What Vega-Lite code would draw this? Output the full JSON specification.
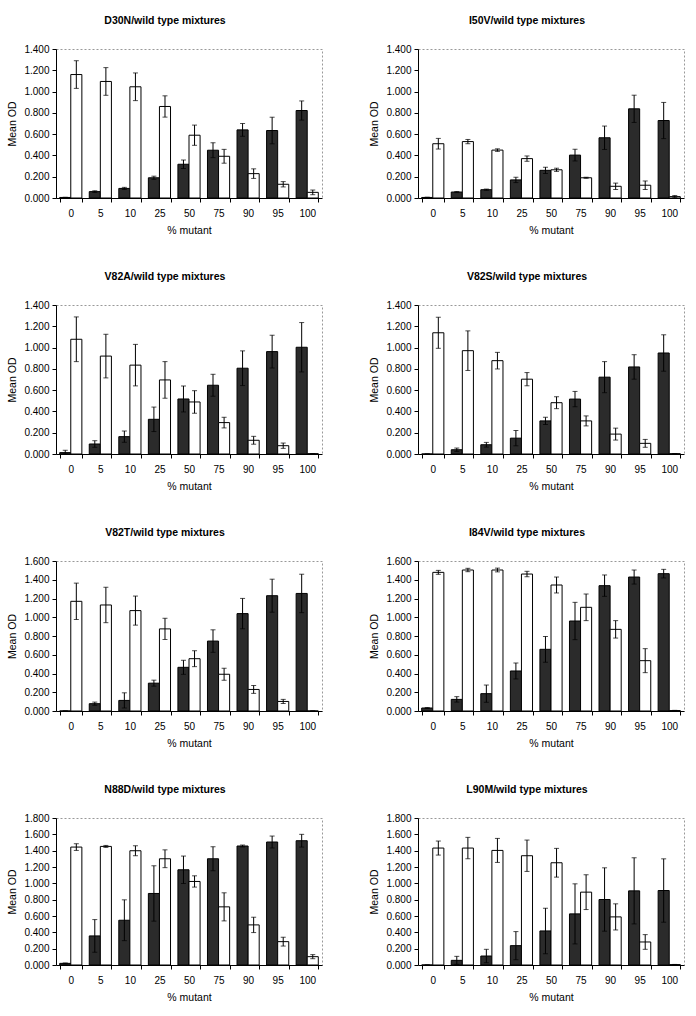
{
  "$schema": "https://vega.github.io/schema/vega-lite/v6.json",
  "padding": {"left": 7, "top": 15, "right": 4, "bottom": 4},
  "background": "white",
  "config": {
    "font": "Liberation Sans",
    "view": {"stroke": "#999999", "strokeDash": [2, 2], "strokeWidth": 1},
    "axis": {"labelFont": "Liberation Sans", "titleFont": "Liberation Sans", "labelFontSize": 10, "titleFontSize": 10.5, "titleFontWeight": "normal", "labelColor": "black", "titleColor": "black", "domainColor": "black", "tickColor": "black", "grid": false, "labelOverlap": false},
    "axisX": {"labelAngle": 0, "tickBand": "extent", "tickSize": 4, "labelPadding": 6, "titlePadding": 7},
    "axisY": {"tickSize": 4, "labelPadding": 3, "titlePadding": 6, "format": ".3f"},
    "title": {"font": "Liberation Sans", "fontSize": 10.5, "fontWeight": "bold", "color": "black", "offset": 18, "anchor": "middle", "frame": "bounds"}
  },
  "data": {"values": [
    {"panel":"D30N","pct":0,"type":"mutant","od":0.005,"lo":0.003,"hi":0.007},
    {"panel":"D30N","pct":0,"type":"wild type","od":1.16,"lo":1.03,"hi":1.29},
    {"panel":"D30N","pct":5,"type":"mutant","od":0.06,"lo":0.052,"hi":0.068},
    {"panel":"D30N","pct":5,"type":"wild type","od":1.095,"lo":0.965,"hi":1.225},
    {"panel":"D30N","pct":10,"type":"mutant","od":0.09,"lo":0.08,"hi":0.1},
    {"panel":"D30N","pct":10,"type":"wild type","od":1.045,"lo":0.915,"hi":1.175},
    {"panel":"D30N","pct":25,"type":"mutant","od":0.19,"lo":0.175,"hi":0.205},
    {"panel":"D30N","pct":25,"type":"wild type","od":0.86,"lo":0.76,"hi":0.96},
    {"panel":"D30N","pct":50,"type":"mutant","od":0.317,"lo":0.277,"hi":0.357},
    {"panel":"D30N","pct":50,"type":"wild type","od":0.59,"lo":0.495,"hi":0.685},
    {"panel":"D30N","pct":75,"type":"mutant","od":0.449,"lo":0.379,"hi":0.519},
    {"panel":"D30N","pct":75,"type":"wild type","od":0.392,"lo":0.327,"hi":0.457},
    {"panel":"D30N","pct":90,"type":"mutant","od":0.64,"lo":0.58,"hi":0.7},
    {"panel":"D30N","pct":90,"type":"wild type","od":0.229,"lo":0.184,"hi":0.274},
    {"panel":"D30N","pct":95,"type":"mutant","od":0.634,"lo":0.509,"hi":0.759},
    {"panel":"D30N","pct":95,"type":"wild type","od":0.129,"lo":0.104,"hi":0.154},
    {"panel":"D30N","pct":100,"type":"mutant","od":0.822,"lo":0.732,"hi":0.912},
    {"panel":"D30N","pct":100,"type":"wild type","od":0.053,"lo":0.031,"hi":0.075},

    {"panel":"I50V","pct":0,"type":"mutant","od":0.005,"lo":0.002,"hi":0.008},
    {"panel":"I50V","pct":0,"type":"wild type","od":0.51,"lo":0.46,"hi":0.56},
    {"panel":"I50V","pct":5,"type":"mutant","od":0.056,"lo":0.051,"hi":0.061},
    {"panel":"I50V","pct":5,"type":"wild type","od":0.53,"lo":0.51,"hi":0.55},
    {"panel":"I50V","pct":10,"type":"mutant","od":0.078,"lo":0.072,"hi":0.084},
    {"panel":"I50V","pct":10,"type":"wild type","od":0.45,"lo":0.438,"hi":0.462},
    {"panel":"I50V","pct":25,"type":"mutant","od":0.17,"lo":0.145,"hi":0.195},
    {"panel":"I50V","pct":25,"type":"wild type","od":0.37,"lo":0.345,"hi":0.395},
    {"panel":"I50V","pct":50,"type":"mutant","od":0.26,"lo":0.23,"hi":0.29},
    {"panel":"I50V","pct":50,"type":"wild type","od":0.265,"lo":0.25,"hi":0.28},
    {"panel":"I50V","pct":75,"type":"mutant","od":0.403,"lo":0.348,"hi":0.458},
    {"panel":"I50V","pct":75,"type":"wild type","od":0.19,"lo":0.185,"hi":0.195},
    {"panel":"I50V","pct":90,"type":"mutant","od":0.566,"lo":0.456,"hi":0.676},
    {"panel":"I50V","pct":90,"type":"wild type","od":0.11,"lo":0.08,"hi":0.14},
    {"panel":"I50V","pct":95,"type":"mutant","od":0.838,"lo":0.71,"hi":0.966},
    {"panel":"I50V","pct":95,"type":"wild type","od":0.12,"lo":0.08,"hi":0.16},
    {"panel":"I50V","pct":100,"type":"mutant","od":0.728,"lo":0.558,"hi":0.898},
    {"panel":"I50V","pct":100,"type":"wild type","od":0.013,"lo":0.003,"hi":0.023},

    {"panel":"V82A","pct":0,"type":"mutant","od":0.013,"lo":0.0,"hi":0.035},
    {"panel":"V82A","pct":0,"type":"wild type","od":1.078,"lo":0.868,"hi":1.288},
    {"panel":"V82A","pct":5,"type":"mutant","od":0.094,"lo":0.063,"hi":0.125},
    {"panel":"V82A","pct":5,"type":"wild type","od":0.92,"lo":0.715,"hi":1.125},
    {"panel":"V82A","pct":10,"type":"mutant","od":0.163,"lo":0.11,"hi":0.216},
    {"panel":"V82A","pct":10,"type":"wild type","od":0.835,"lo":0.64,"hi":1.03},
    {"panel":"V82A","pct":25,"type":"mutant","od":0.326,"lo":0.211,"hi":0.441},
    {"panel":"V82A","pct":25,"type":"wild type","od":0.696,"lo":0.524,"hi":0.868},
    {"panel":"V82A","pct":50,"type":"mutant","od":0.517,"lo":0.395,"hi":0.639},
    {"panel":"V82A","pct":50,"type":"wild type","od":0.489,"lo":0.383,"hi":0.595},
    {"panel":"V82A","pct":75,"type":"mutant","od":0.646,"lo":0.543,"hi":0.749},
    {"panel":"V82A","pct":75,"type":"wild type","od":0.295,"lo":0.245,"hi":0.345},
    {"panel":"V82A","pct":90,"type":"mutant","od":0.806,"lo":0.643,"hi":0.969},
    {"panel":"V82A","pct":90,"type":"wild type","od":0.129,"lo":0.092,"hi":0.166},
    {"panel":"V82A","pct":95,"type":"mutant","od":0.962,"lo":0.808,"hi":1.116},
    {"panel":"V82A","pct":95,"type":"wild type","od":0.078,"lo":0.053,"hi":0.103},
    {"panel":"V82A","pct":100,"type":"mutant","od":1.003,"lo":0.771,"hi":1.235},
    {"panel":"V82A","pct":100,"type":"wild type","od":0.003,"lo":0.002,"hi":0.004},

    {"panel":"V82S","pct":0,"type":"mutant","od":0.0,"lo":0.0,"hi":0.0},
    {"panel":"V82S","pct":0,"type":"wild type","od":1.139,"lo":0.993,"hi":1.285},
    {"panel":"V82S","pct":5,"type":"mutant","od":0.04,"lo":0.024,"hi":0.056},
    {"panel":"V82S","pct":5,"type":"wild type","od":0.971,"lo":0.785,"hi":1.157},
    {"panel":"V82S","pct":10,"type":"mutant","od":0.087,"lo":0.065,"hi":0.109},
    {"panel":"V82S","pct":10,"type":"wild type","od":0.877,"lo":0.799,"hi":0.955},
    {"panel":"V82S","pct":25,"type":"mutant","od":0.149,"lo":0.077,"hi":0.221},
    {"panel":"V82S","pct":25,"type":"wild type","od":0.703,"lo":0.641,"hi":0.765},
    {"panel":"V82S","pct":50,"type":"mutant","od":0.311,"lo":0.277,"hi":0.345},
    {"panel":"V82S","pct":50,"type":"wild type","od":0.482,"lo":0.426,"hi":0.538},
    {"panel":"V82S","pct":75,"type":"mutant","od":0.516,"lo":0.444,"hi":0.588},
    {"panel":"V82S","pct":75,"type":"wild type","od":0.311,"lo":0.264,"hi":0.358},
    {"panel":"V82S","pct":90,"type":"mutant","od":0.722,"lo":0.576,"hi":0.868},
    {"panel":"V82S","pct":90,"type":"wild type","od":0.187,"lo":0.131,"hi":0.243},
    {"panel":"V82S","pct":95,"type":"mutant","od":0.818,"lo":0.703,"hi":0.933},
    {"panel":"V82S","pct":95,"type":"wild type","od":0.1,"lo":0.063,"hi":0.137},
    {"panel":"V82S","pct":100,"type":"mutant","od":0.949,"lo":0.778,"hi":1.12},
    {"panel":"V82S","pct":100,"type":"wild type","od":0.003,"lo":0.002,"hi":0.004},

    {"panel":"V82T","pct":0,"type":"mutant","od":0.0,"lo":0.0,"hi":0.0},
    {"panel":"V82T","pct":0,"type":"wild type","od":1.17,"lo":0.976,"hi":1.364},
    {"panel":"V82T","pct":5,"type":"mutant","od":0.078,"lo":0.061,"hi":0.095},
    {"panel":"V82T","pct":5,"type":"wild type","od":1.131,"lo":0.942,"hi":1.32},
    {"panel":"V82T","pct":10,"type":"mutant","od":0.113,"lo":0.032,"hi":0.194},
    {"panel":"V82T","pct":10,"type":"wild type","od":1.071,"lo":0.916,"hi":1.226},
    {"panel":"V82T","pct":25,"type":"mutant","od":0.297,"lo":0.265,"hi":0.329},
    {"panel":"V82T","pct":25,"type":"wild type","od":0.876,"lo":0.763,"hi":0.989},
    {"panel":"V82T","pct":50,"type":"mutant","od":0.466,"lo":0.391,"hi":0.541},
    {"panel":"V82T","pct":50,"type":"wild type","od":0.558,"lo":0.473,"hi":0.643},
    {"panel":"V82T","pct":75,"type":"mutant","od":0.746,"lo":0.626,"hi":0.866},
    {"panel":"V82T","pct":75,"type":"wild type","od":0.392,"lo":0.328,"hi":0.456},
    {"panel":"V82T","pct":90,"type":"mutant","od":1.039,"lo":0.877,"hi":1.201},
    {"panel":"V82T","pct":90,"type":"wild type","od":0.23,"lo":0.188,"hi":0.272},
    {"panel":"V82T","pct":95,"type":"mutant","od":1.23,"lo":1.054,"hi":1.406},
    {"panel":"V82T","pct":95,"type":"wild type","od":0.102,"lo":0.08,"hi":0.124},
    {"panel":"V82T","pct":100,"type":"mutant","od":1.254,"lo":1.049,"hi":1.459},
    {"panel":"V82T","pct":100,"type":"wild type","od":0.0,"lo":0.0,"hi":0.0},

    {"panel":"I84V","pct":0,"type":"mutant","od":0.032,"lo":0.027,"hi":0.037},
    {"panel":"I84V","pct":0,"type":"wild type","od":1.479,"lo":1.458,"hi":1.5},
    {"panel":"I84V","pct":5,"type":"mutant","od":0.124,"lo":0.095,"hi":0.153},
    {"panel":"I84V","pct":5,"type":"wild type","od":1.504,"lo":1.486,"hi":1.522},
    {"panel":"I84V","pct":10,"type":"mutant","od":0.185,"lo":0.093,"hi":0.277},
    {"panel":"I84V","pct":10,"type":"wild type","od":1.504,"lo":1.484,"hi":1.524},
    {"panel":"I84V","pct":25,"type":"mutant","od":0.427,"lo":0.342,"hi":0.512},
    {"panel":"I84V","pct":25,"type":"wild type","od":1.461,"lo":1.432,"hi":1.49},
    {"panel":"I84V","pct":50,"type":"mutant","od":0.658,"lo":0.52,"hi":0.796},
    {"panel":"I84V","pct":50,"type":"wild type","od":1.344,"lo":1.259,"hi":1.429},
    {"panel":"I84V","pct":75,"type":"mutant","od":0.96,"lo":0.761,"hi":1.159},
    {"panel":"I84V","pct":75,"type":"wild type","od":1.106,"lo":0.964,"hi":1.248},
    {"panel":"I84V","pct":90,"type":"mutant","od":1.337,"lo":1.223,"hi":1.451},
    {"panel":"I84V","pct":90,"type":"wild type","od":0.871,"lo":0.778,"hi":0.964},
    {"panel":"I84V","pct":95,"type":"mutant","od":1.429,"lo":1.354,"hi":1.504},
    {"panel":"I84V","pct":95,"type":"wild type","od":0.537,"lo":0.409,"hi":0.665},
    {"panel":"I84V","pct":100,"type":"mutant","od":1.465,"lo":1.419,"hi":1.511},
    {"panel":"I84V","pct":100,"type":"wild type","od":0.005,"lo":0.003,"hi":0.007},

    {"panel":"N88D","pct":0,"type":"mutant","od":0.02,"lo":0.015,"hi":0.025},
    {"panel":"N88D","pct":0,"type":"wild type","od":1.444,"lo":1.403,"hi":1.485},
    {"panel":"N88D","pct":5,"type":"mutant","od":0.356,"lo":0.156,"hi":0.556},
    {"panel":"N88D","pct":5,"type":"wild type","od":1.452,"lo":1.44,"hi":1.464},
    {"panel":"N88D","pct":10,"type":"mutant","od":0.548,"lo":0.298,"hi":0.798},
    {"panel":"N88D","pct":10,"type":"wild type","od":1.399,"lo":1.338,"hi":1.46},
    {"panel":"N88D","pct":25,"type":"mutant","od":0.876,"lo":0.537,"hi":1.215},
    {"panel":"N88D","pct":25,"type":"wild type","od":1.301,"lo":1.192,"hi":1.41},
    {"panel":"N88D","pct":50,"type":"mutant","od":1.166,"lo":0.998,"hi":1.334},
    {"panel":"N88D","pct":50,"type":"wild type","od":1.023,"lo":0.954,"hi":1.092},
    {"panel":"N88D","pct":75,"type":"mutant","od":1.301,"lo":1.154,"hi":1.448},
    {"panel":"N88D","pct":75,"type":"wild type","od":0.712,"lo":0.54,"hi":0.884},
    {"panel":"N88D","pct":90,"type":"mutant","od":1.457,"lo":1.445,"hi":1.469},
    {"panel":"N88D","pct":90,"type":"wild type","od":0.491,"lo":0.397,"hi":0.585},
    {"panel":"N88D","pct":95,"type":"mutant","od":1.506,"lo":1.433,"hi":1.579},
    {"panel":"N88D","pct":95,"type":"wild type","od":0.286,"lo":0.232,"hi":0.34},
    {"panel":"N88D","pct":100,"type":"mutant","od":1.522,"lo":1.444,"hi":1.6},
    {"panel":"N88D","pct":100,"type":"wild type","od":0.102,"lo":0.077,"hi":0.127},

    {"panel":"L90M","pct":0,"type":"mutant","od":0.0,"lo":0.0,"hi":0.0},
    {"panel":"L90M","pct":0,"type":"wild type","od":1.432,"lo":1.346,"hi":1.518},
    {"panel":"L90M","pct":5,"type":"mutant","od":0.057,"lo":0.008,"hi":0.106},
    {"panel":"L90M","pct":5,"type":"wild type","od":1.432,"lo":1.301,"hi":1.563},
    {"panel":"L90M","pct":10,"type":"mutant","od":0.11,"lo":0.028,"hi":0.192},
    {"panel":"L90M","pct":10,"type":"wild type","od":1.403,"lo":1.256,"hi":1.55},
    {"panel":"L90M","pct":25,"type":"mutant","od":0.237,"lo":0.065,"hi":0.409},
    {"panel":"L90M","pct":25,"type":"wild type","od":1.338,"lo":1.146,"hi":1.53},
    {"panel":"L90M","pct":50,"type":"mutant","od":0.417,"lo":0.138,"hi":0.696},
    {"panel":"L90M","pct":50,"type":"wild type","od":1.252,"lo":1.076,"hi":1.428},
    {"panel":"L90M","pct":75,"type":"mutant","od":0.626,"lo":0.258,"hi":0.994},
    {"panel":"L90M","pct":75,"type":"wild type","od":0.892,"lo":0.679,"hi":1.105},
    {"panel":"L90M","pct":90,"type":"mutant","od":0.802,"lo":0.414,"hi":1.19},
    {"panel":"L90M","pct":90,"type":"wild type","od":0.589,"lo":0.429,"hi":0.749},
    {"panel":"L90M","pct":95,"type":"mutant","od":0.908,"lo":0.503,"hi":1.313},
    {"panel":"L90M","pct":95,"type":"wild type","od":0.282,"lo":0.192,"hi":0.372},
    {"panel":"L90M","pct":100,"type":"mutant","od":0.912,"lo":0.524,"hi":1.3},
    {"panel":"L90M","pct":100,"type":"wild type","od":0.005,"lo":0.003,"hi":0.007}
  ]},
  "columns": 2,
  "spacing": {"row": 35, "column": 46},
  "concat": [
    {
      "title": "D30N/wild type mixtures", "width": 266, "height": 149,
      "transform": [{"filter": "datum.panel === 'D30N'"}],
      "encoding": {
        "x": {"field": "pct", "type": "ordinal", "title": "% mutant", "scale": {"paddingInner": 0.25, "paddingOuter": 0.125}},
        "xOffset": {"field": "type", "type": "nominal", "sort": ["mutant", "wild type"], "scale": {"paddingInner": 0, "paddingOuter": 0}}
      },
      "layer": [
        {"mark": {"type": "bar", "stroke": "black", "strokeWidth": 1}, "encoding": {"y": {"field": "od", "type": "quantitative", "title": "Mean OD", "scale": {"domain": [0, 1.4], "nice": false}, "axis": {"values": [0, 0.2, 0.4, 0.6, 0.8, 1.0, 1.2, 1.4]}}, "fill": {"field": "type", "type": "nominal", "scale": {"domain": ["mutant", "wild type"], "range": ["#2b2b2b", "#ffffff"]}, "legend": null}}},
        {"mark": {"type": "rule", "color": "black", "strokeWidth": 1}, "encoding": {"y": {"field": "lo", "type": "quantitative", "title": "Mean OD", "scale": {"domain": [0, 1.4], "nice": false}, "axis": {"values": [0, 0.2, 0.4, 0.6, 0.8, 1.0, 1.2, 1.4]}}, "y2": {"field": "hi"}}},
        {"mark": {"type": "tick", "color": "black", "size": 5, "thickness": 1}, "encoding": {"y": {"field": "lo", "type": "quantitative", "title": "Mean OD", "scale": {"domain": [0, 1.4], "nice": false}, "axis": {"values": [0, 0.2, 0.4, 0.6, 0.8, 1.0, 1.2, 1.4]}}}},
        {"mark": {"type": "tick", "color": "black", "size": 5, "thickness": 1}, "encoding": {"y": {"field": "hi", "type": "quantitative", "title": "Mean OD", "scale": {"domain": [0, 1.4], "nice": false}, "axis": {"values": [0, 0.2, 0.4, 0.6, 0.8, 1.0, 1.2, 1.4]}}}}
      ]
    },
    {
      "title": "I50V/wild type mixtures", "width": 266, "height": 149,
      "transform": [{"filter": "datum.panel === 'I50V'"}],
      "encoding": {
        "x": {"field": "pct", "type": "ordinal", "title": "% mutant", "scale": {"paddingInner": 0.25, "paddingOuter": 0.125}},
        "xOffset": {"field": "type", "type": "nominal", "sort": ["mutant", "wild type"], "scale": {"paddingInner": 0, "paddingOuter": 0}}
      },
      "layer": [
        {"mark": {"type": "bar", "stroke": "black", "strokeWidth": 1}, "encoding": {"y": {"field": "od", "type": "quantitative", "title": "Mean OD", "scale": {"domain": [0, 1.4], "nice": false}, "axis": {"values": [0, 0.2, 0.4, 0.6, 0.8, 1.0, 1.2, 1.4]}}, "fill": {"field": "type", "type": "nominal", "scale": {"domain": ["mutant", "wild type"], "range": ["#2b2b2b", "#ffffff"]}, "legend": null}}},
        {"mark": {"type": "rule", "color": "black", "strokeWidth": 1}, "encoding": {"y": {"field": "lo", "type": "quantitative", "title": "Mean OD", "scale": {"domain": [0, 1.4], "nice": false}, "axis": {"values": [0, 0.2, 0.4, 0.6, 0.8, 1.0, 1.2, 1.4]}}, "y2": {"field": "hi"}}},
        {"mark": {"type": "tick", "color": "black", "size": 5, "thickness": 1}, "encoding": {"y": {"field": "lo", "type": "quantitative", "title": "Mean OD", "scale": {"domain": [0, 1.4], "nice": false}, "axis": {"values": [0, 0.2, 0.4, 0.6, 0.8, 1.0, 1.2, 1.4]}}}},
        {"mark": {"type": "tick", "color": "black", "size": 5, "thickness": 1}, "encoding": {"y": {"field": "hi", "type": "quantitative", "title": "Mean OD", "scale": {"domain": [0, 1.4], "nice": false}, "axis": {"values": [0, 0.2, 0.4, 0.6, 0.8, 1.0, 1.2, 1.4]}}}}
      ]
    },
    {
      "title": "V82A/wild type mixtures", "width": 266, "height": 149,
      "transform": [{"filter": "datum.panel === 'V82A'"}],
      "encoding": {
        "x": {"field": "pct", "type": "ordinal", "title": "% mutant", "scale": {"paddingInner": 0.25, "paddingOuter": 0.125}},
        "xOffset": {"field": "type", "type": "nominal", "sort": ["mutant", "wild type"], "scale": {"paddingInner": 0, "paddingOuter": 0}}
      },
      "layer": [
        {"mark": {"type": "bar", "stroke": "black", "strokeWidth": 1}, "encoding": {"y": {"field": "od", "type": "quantitative", "title": "Mean OD", "scale": {"domain": [0, 1.4], "nice": false}, "axis": {"values": [0, 0.2, 0.4, 0.6, 0.8, 1.0, 1.2, 1.4]}}, "fill": {"field": "type", "type": "nominal", "scale": {"domain": ["mutant", "wild type"], "range": ["#2b2b2b", "#ffffff"]}, "legend": null}}},
        {"mark": {"type": "rule", "color": "black", "strokeWidth": 1}, "encoding": {"y": {"field": "lo", "type": "quantitative", "title": "Mean OD", "scale": {"domain": [0, 1.4], "nice": false}, "axis": {"values": [0, 0.2, 0.4, 0.6, 0.8, 1.0, 1.2, 1.4]}}, "y2": {"field": "hi"}}},
        {"mark": {"type": "tick", "color": "black", "size": 5, "thickness": 1}, "encoding": {"y": {"field": "lo", "type": "quantitative", "title": "Mean OD", "scale": {"domain": [0, 1.4], "nice": false}, "axis": {"values": [0, 0.2, 0.4, 0.6, 0.8, 1.0, 1.2, 1.4]}}}},
        {"mark": {"type": "tick", "color": "black", "size": 5, "thickness": 1}, "encoding": {"y": {"field": "hi", "type": "quantitative", "title": "Mean OD", "scale": {"domain": [0, 1.4], "nice": false}, "axis": {"values": [0, 0.2, 0.4, 0.6, 0.8, 1.0, 1.2, 1.4]}}}}
      ]
    },
    {
      "title": "V82S/wild type mixtures", "width": 266, "height": 149,
      "transform": [{"filter": "datum.panel === 'V82S'"}],
      "encoding": {
        "x": {"field": "pct", "type": "ordinal", "title": "% mutant", "scale": {"paddingInner": 0.25, "paddingOuter": 0.125}},
        "xOffset": {"field": "type", "type": "nominal", "sort": ["mutant", "wild type"], "scale": {"paddingInner": 0, "paddingOuter": 0}}
      },
      "layer": [
        {"mark": {"type": "bar", "stroke": "black", "strokeWidth": 1}, "encoding": {"y": {"field": "od", "type": "quantitative", "title": "Mean OD", "scale": {"domain": [0, 1.4], "nice": false}, "axis": {"values": [0, 0.2, 0.4, 0.6, 0.8, 1.0, 1.2, 1.4]}}, "fill": {"field": "type", "type": "nominal", "scale": {"domain": ["mutant", "wild type"], "range": ["#2b2b2b", "#ffffff"]}, "legend": null}}},
        {"mark": {"type": "rule", "color": "black", "strokeWidth": 1}, "encoding": {"y": {"field": "lo", "type": "quantitative", "title": "Mean OD", "scale": {"domain": [0, 1.4], "nice": false}, "axis": {"values": [0, 0.2, 0.4, 0.6, 0.8, 1.0, 1.2, 1.4]}}, "y2": {"field": "hi"}}},
        {"mark": {"type": "tick", "color": "black", "size": 5, "thickness": 1}, "encoding": {"y": {"field": "lo", "type": "quantitative", "title": "Mean OD", "scale": {"domain": [0, 1.4], "nice": false}, "axis": {"values": [0, 0.2, 0.4, 0.6, 0.8, 1.0, 1.2, 1.4]}}}},
        {"mark": {"type": "tick", "color": "black", "size": 5, "thickness": 1}, "encoding": {"y": {"field": "hi", "type": "quantitative", "title": "Mean OD", "scale": {"domain": [0, 1.4], "nice": false}, "axis": {"values": [0, 0.2, 0.4, 0.6, 0.8, 1.0, 1.2, 1.4]}}}}
      ]
    },
    {
      "title": "V82T/wild type mixtures", "width": 266, "height": 150,
      "transform": [{"filter": "datum.panel === 'V82T'"}],
      "encoding": {
        "x": {"field": "pct", "type": "ordinal", "title": "% mutant", "scale": {"paddingInner": 0.25, "paddingOuter": 0.125}},
        "xOffset": {"field": "type", "type": "nominal", "sort": ["mutant", "wild type"], "scale": {"paddingInner": 0, "paddingOuter": 0}}
      },
      "layer": [
        {"mark": {"type": "bar", "stroke": "black", "strokeWidth": 1}, "encoding": {"y": {"field": "od", "type": "quantitative", "title": "Mean OD", "scale": {"domain": [0, 1.6], "nice": false}, "axis": {"values": [0, 0.2, 0.4, 0.6, 0.8, 1.0, 1.2, 1.4, 1.6]}}, "fill": {"field": "type", "type": "nominal", "scale": {"domain": ["mutant", "wild type"], "range": ["#2b2b2b", "#ffffff"]}, "legend": null}}},
        {"mark": {"type": "rule", "color": "black", "strokeWidth": 1}, "encoding": {"y": {"field": "lo", "type": "quantitative", "title": "Mean OD", "scale": {"domain": [0, 1.6], "nice": false}, "axis": {"values": [0, 0.2, 0.4, 0.6, 0.8, 1.0, 1.2, 1.4, 1.6]}}, "y2": {"field": "hi"}}},
        {"mark": {"type": "tick", "color": "black", "size": 5, "thickness": 1}, "encoding": {"y": {"field": "lo", "type": "quantitative", "title": "Mean OD", "scale": {"domain": [0, 1.6], "nice": false}, "axis": {"values": [0, 0.2, 0.4, 0.6, 0.8, 1.0, 1.2, 1.4, 1.6]}}}},
        {"mark": {"type": "tick", "color": "black", "size": 5, "thickness": 1}, "encoding": {"y": {"field": "hi", "type": "quantitative", "title": "Mean OD", "scale": {"domain": [0, 1.6], "nice": false}, "axis": {"values": [0, 0.2, 0.4, 0.6, 0.8, 1.0, 1.2, 1.4, 1.6]}}}}
      ]
    },
    {
      "title": "I84V/wild type mixtures", "width": 266, "height": 150,
      "transform": [{"filter": "datum.panel === 'I84V'"}],
      "encoding": {
        "x": {"field": "pct", "type": "ordinal", "title": "% mutant", "scale": {"paddingInner": 0.25, "paddingOuter": 0.125}},
        "xOffset": {"field": "type", "type": "nominal", "sort": ["mutant", "wild type"], "scale": {"paddingInner": 0, "paddingOuter": 0}}
      },
      "layer": [
        {"mark": {"type": "bar", "stroke": "black", "strokeWidth": 1}, "encoding": {"y": {"field": "od", "type": "quantitative", "title": "Mean OD", "scale": {"domain": [0, 1.6], "nice": false}, "axis": {"values": [0, 0.2, 0.4, 0.6, 0.8, 1.0, 1.2, 1.4, 1.6]}}, "fill": {"field": "type", "type": "nominal", "scale": {"domain": ["mutant", "wild type"], "range": ["#2b2b2b", "#ffffff"]}, "legend": null}}},
        {"mark": {"type": "rule", "color": "black", "strokeWidth": 1}, "encoding": {"y": {"field": "lo", "type": "quantitative", "title": "Mean OD", "scale": {"domain": [0, 1.6], "nice": false}, "axis": {"values": [0, 0.2, 0.4, 0.6, 0.8, 1.0, 1.2, 1.4, 1.6]}}, "y2": {"field": "hi"}}},
        {"mark": {"type": "tick", "color": "black", "size": 5, "thickness": 1}, "encoding": {"y": {"field": "lo", "type": "quantitative", "title": "Mean OD", "scale": {"domain": [0, 1.6], "nice": false}, "axis": {"values": [0, 0.2, 0.4, 0.6, 0.8, 1.0, 1.2, 1.4, 1.6]}}}},
        {"mark": {"type": "tick", "color": "black", "size": 5, "thickness": 1}, "encoding": {"y": {"field": "hi", "type": "quantitative", "title": "Mean OD", "scale": {"domain": [0, 1.6], "nice": false}, "axis": {"values": [0, 0.2, 0.4, 0.6, 0.8, 1.0, 1.2, 1.4, 1.6]}}}}
      ]
    },
    {
      "title": "N88D/wild type mixtures", "width": 266, "height": 147,
      "transform": [{"filter": "datum.panel === 'N88D'"}],
      "encoding": {
        "x": {"field": "pct", "type": "ordinal", "title": "% mutant", "scale": {"paddingInner": 0.25, "paddingOuter": 0.125}},
        "xOffset": {"field": "type", "type": "nominal", "sort": ["mutant", "wild type"], "scale": {"paddingInner": 0, "paddingOuter": 0}}
      },
      "layer": [
        {"mark": {"type": "bar", "stroke": "black", "strokeWidth": 1}, "encoding": {"y": {"field": "od", "type": "quantitative", "title": "Mean OD", "scale": {"domain": [0, 1.8], "nice": false}, "axis": {"values": [0, 0.2, 0.4, 0.6, 0.8, 1.0, 1.2, 1.4, 1.6, 1.8]}}, "fill": {"field": "type", "type": "nominal", "scale": {"domain": ["mutant", "wild type"], "range": ["#2b2b2b", "#ffffff"]}, "legend": null}}},
        {"mark": {"type": "rule", "color": "black", "strokeWidth": 1}, "encoding": {"y": {"field": "lo", "type": "quantitative", "title": "Mean OD", "scale": {"domain": [0, 1.8], "nice": false}, "axis": {"values": [0, 0.2, 0.4, 0.6, 0.8, 1.0, 1.2, 1.4, 1.6, 1.8]}}, "y2": {"field": "hi"}}},
        {"mark": {"type": "tick", "color": "black", "size": 5, "thickness": 1}, "encoding": {"y": {"field": "lo", "type": "quantitative", "title": "Mean OD", "scale": {"domain": [0, 1.8], "nice": false}, "axis": {"values": [0, 0.2, 0.4, 0.6, 0.8, 1.0, 1.2, 1.4, 1.6, 1.8]}}}},
        {"mark": {"type": "tick", "color": "black", "size": 5, "thickness": 1}, "encoding": {"y": {"field": "hi", "type": "quantitative", "title": "Mean OD", "scale": {"domain": [0, 1.8], "nice": false}, "axis": {"values": [0, 0.2, 0.4, 0.6, 0.8, 1.0, 1.2, 1.4, 1.6, 1.8]}}}}
      ]
    },
    {
      "title": "L90M/wild type mixtures", "width": 266, "height": 147,
      "transform": [{"filter": "datum.panel === 'L90M'"}],
      "encoding": {
        "x": {"field": "pct", "type": "ordinal", "title": "% mutant", "scale": {"paddingInner": 0.25, "paddingOuter": 0.125}},
        "xOffset": {"field": "type", "type": "nominal", "sort": ["mutant", "wild type"], "scale": {"paddingInner": 0, "paddingOuter": 0}}
      },
      "layer": [
        {"mark": {"type": "bar", "stroke": "black", "strokeWidth": 1}, "encoding": {"y": {"field": "od", "type": "quantitative", "title": "Mean OD", "scale": {"domain": [0, 1.8], "nice": false}, "axis": {"values": [0, 0.2, 0.4, 0.6, 0.8, 1.0, 1.2, 1.4, 1.6, 1.8]}}, "fill": {"field": "type", "type": "nominal", "scale": {"domain": ["mutant", "wild type"], "range": ["#2b2b2b", "#ffffff"]}, "legend": null}}},
        {"mark": {"type": "rule", "color": "black", "strokeWidth": 1}, "encoding": {"y": {"field": "lo", "type": "quantitative", "title": "Mean OD", "scale": {"domain": [0, 1.8], "nice": false}, "axis": {"values": [0, 0.2, 0.4, 0.6, 0.8, 1.0, 1.2, 1.4, 1.6, 1.8]}}, "y2": {"field": "hi"}}},
        {"mark": {"type": "tick", "color": "black", "size": 5, "thickness": 1}, "encoding": {"y": {"field": "lo", "type": "quantitative", "title": "Mean OD", "scale": {"domain": [0, 1.8], "nice": false}, "axis": {"values": [0, 0.2, 0.4, 0.6, 0.8, 1.0, 1.2, 1.4, 1.6, 1.8]}}}},
        {"mark": {"type": "tick", "color": "black", "size": 5, "thickness": 1}, "encoding": {"y": {"field": "hi", "type": "quantitative", "title": "Mean OD", "scale": {"domain": [0, 1.8], "nice": false}, "axis": {"values": [0, 0.2, 0.4, 0.6, 0.8, 1.0, 1.2, 1.4, 1.6, 1.8]}}}}
      ]
    }
  ]
}
